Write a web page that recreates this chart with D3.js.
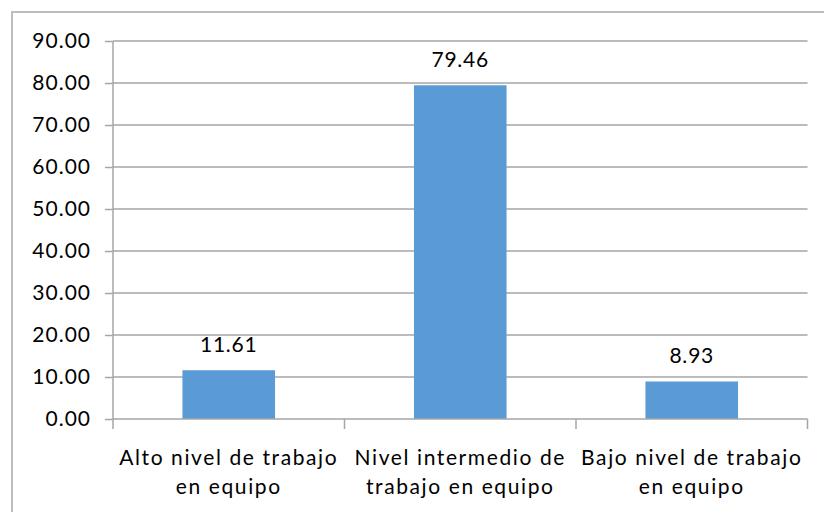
<!DOCTYPE html>
<html>
<head>
<meta charset="utf-8">
<script src="https://cdn.jsdelivr.net/npm/d3@7"></script>
<style>
  body { margin: 0; background: #fff; }
  text { font-family: Lato, "Liberation Sans", sans-serif; fill: #000; }
</style>
</head>
<body>
<div id="main"></div>
<script>
var categories = [
    ["Alto nivel de trabajo", "en equipo"],
    ["Nivel intermedio de", "trabajo en equipo"],
    ["Bajo nivel de trabajo", "en equipo"]
];
var values = [11.61, 79.46, 8.93];
var yTicks = [0, 10, 20, 30, 40, 50, 60, 70, 80, 90];

var width = 824,
    height = 512;

var plotLeft = 113, plotRight = 807.5, plotTop = 41, plotBottom = 419;
var font_size = 21;

var svg = d3.select("#main").append("svg")
    .attr("width", width)
    .attr("height", height);

// outer frame (runs off the right and bottom edge)
svg.append("rect")
    .attr("x", 12).attr("y", 12)
    .attr("width", 900).attr("height", 600)
    .attr("fill", "none")
    .attr("stroke", "#bdbdbd")
    .attr("stroke-width", 2);

var x = d3.scaleBand()
    .domain(d3.range(categories.length))
    .range([plotLeft, plotRight])
    .paddingInner(0.6)
    .paddingOuter(0.3);

var y = d3.scaleLinear()
    .domain([0, 90])
    .range([plotBottom, plotTop]);

// gridlines
svg.append("g")
    .selectAll("line")
    .data(yTicks.slice(1))
    .enter().append("line")
    .attr("x1", plotLeft).attr("x2", plotRight)
    .attr("y1", function(d){ return y(d); })
    .attr("y2", function(d){ return y(d); })
    .attr("stroke", "#a6a6a6")
    .attr("stroke-width", 1.5);

// bars
svg.append("g")
    .selectAll("rect")
    .data(values)
    .enter().append("rect")
    .attr("x", function(d, i){ return x(i); })
    .attr("y", function(d){ return y(d); })
    .attr("width", x.bandwidth())
    .attr("height", function(d){ return y(0) - y(d); })
    .attr("fill", "#5b9bd5");

// value labels
svg.append("g")
    .selectAll("text")
    .data(values)
    .enter().append("text")
    .attr("x", function(d, i){ return x(i) + x.bandwidth() / 2; })
    .attr("y", function(d){ return y(d) - 18; })
    .attr("text-anchor", "middle")
    .style("font-size", font_size + "px")
    .style("letter-spacing", "0.8px")
    .text(function(d){ return d.toFixed(2); });

// y axis
var yAxis = svg.append("g")
    .attr("transform", "translate(" + plotLeft + ",0)")
    .call(d3.axisLeft(y).tickValues(yTicks).tickSize(8).tickPadding(14).tickFormat(d3.format(".2f")));
yAxis.select(".domain").remove();
yAxis.selectAll(".tick line").attr("stroke", "#a6a6a6").attr("stroke-width", 1.5);
yAxis.selectAll("text")
    .attr("fill", "#000")
    .style("font-size", font_size + "px")
    .style("letter-spacing", "1px")
    .style("font-family", "Lato, 'Liberation Sans', sans-serif");

svg.append("line")
    .attr("x1", plotLeft).attr("x2", plotLeft)
    .attr("y1", plotTop).attr("y2", plotBottom + 10)
    .attr("stroke", "#a6a6a6").attr("stroke-width", 1.5);

// x axis
svg.append("line")
    .attr("x1", plotLeft).attr("x2", plotRight)
    .attr("y1", plotBottom).attr("y2", plotBottom)
    .attr("stroke", "#a6a6a6").attr("stroke-width", 1.5);

var cellStart = function(i){ return x(i) - x.step() * x.paddingOuter(); };
var bounds = d3.range(categories.length).map(cellStart).concat([plotRight]);
svg.append("g")
    .selectAll("line")
    .data(bounds.slice(1))
    .enter().append("line")
    .attr("x1", function(d){ return d; }).attr("x2", function(d){ return d; })
    .attr("y1", plotBottom).attr("y2", plotBottom + 10)
    .attr("stroke", "#a6a6a6").attr("stroke-width", 1.5);

var catText = svg.append("g")
    .selectAll("text")
    .data(categories)
    .enter().append("text")
    .attr("text-anchor", "middle")
    .style("font-size", font_size + "px")
    .style("letter-spacing", "1.6px");

catText.selectAll("tspan")
    .data(function(d, i){ return d.map(function(s){ return {s: s, i: i}; }); })
    .enter().append("tspan")
    .attr("x", function(d){ return x(d.i) + x.bandwidth() / 2; })
    .attr("y", function(d, j){ return 465 + j * 29; })
    .text(function(d){ return d.s; });
</script>
</body>
</html>
